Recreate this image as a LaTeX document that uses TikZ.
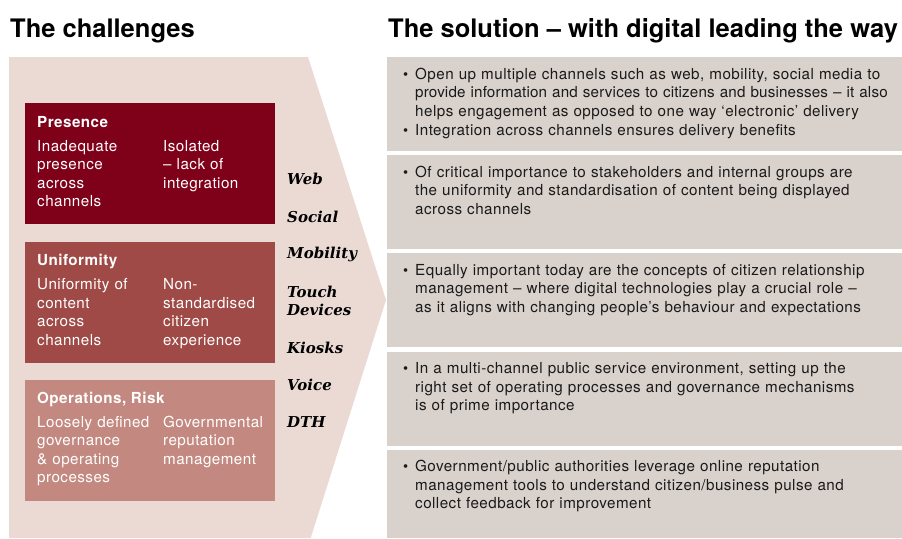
\documentclass[tikz,border=0pt]{standalone}
\usepackage{fontspec}
\setmainfont{TeX Gyre Heros}
\newfontfamily\bodyfont[LetterSpace=3]{TeX Gyre Heros}
\newfontfamily\chanfont{DejaVu Serif}
\definecolor{chevbg}{HTML}{EBDAD4}
\definecolor{presred}{HTML}{7F0019}
\definecolor{unired}{HTML}{9F4A46}
\definecolor{opsred}{HTML}{C38980}
\definecolor{solgray}{HTML}{D9D1CC}
\definecolor{ink}{HTML}{1A1A1A}
\tikzset{
  heading/.style={anchor=base west,inner sep=0,font=\bfseries\fontsize{25.5}{30}\selectfont},
  boxtitle/.style={anchor=base west,inner sep=0,text=white,font=\bodyfont\bfseries\fontsize{15.2}{18.5}\selectfont},
  boxtext/.style={anchor=base west,inner sep=0,text=white,text width=#1,align=left,font=\bodyfont\fontsize{15.2}{18.5}\selectfont},
  channel/.style={anchor=base west,inner sep=0,text=black,align=left,text width=80,font=\chanfont\bfseries\itshape\fontsize{15}{18}\selectfont},
  bul/.style={anchor=base west,inner sep=0,text=ink,font=\fontsize{14.5}{18.5}\selectfont},
  soltext/.style={anchor=base west,inner sep=0,text=ink,text width=520,align=left,font=\bodyfont\fontsize{15.2}{18.5}\selectfont}
}
\begin{document}
\begin{tikzpicture}[x=1pt,y=-1pt]
  \useasboundingbox (0,0) rectangle (902,538);
  \fill[white] (0,0) rectangle (902,538);

  % left side
  \node[heading] (challenges) at (10,37) {The challenges};
  \fill[chevbg] (9,57) -- (308,57) -- (386,300) -- (310.7,538) -- (9,538) -- cycle;

  \fill[presred] (25,103) rectangle (275,224);
  \node[boxtitle] (presence) at (37,127) {Presence};
  \node[boxtext=124] (presA) at (37,151) {Inadequate\\presence\\across\\channels};
  \node[boxtext=112] (presB) at (163,151) {Isolated\\– lack of\\integration};

  \fill[unired] (25,242) rectangle (275,363);
  \node[boxtitle] (uniformity) at (37,265.5) {Uniformity};
  \node[boxtext=124] (uniA) at (37,289.5) {Uniformity of\\content\\across\\channels};
  \node[boxtext=112] (uniB) at (163,289.5) {Non-\\standardised\\citizen\\experience};

  \fill[opsred] (25,380) rectangle (275,501);
  \node[boxtitle] (operations) at (37,403) {Operations, Risk};
  \node[boxtext=124] (opsA) at (37,427) {Loosely defined\\governance\\\&~operating\\processes};
  \node[boxtext=112] (opsB) at (163,427) {Governmental\\reputation\\management};

  % channels
  \node[channel] (web) at (287,184) {Web};
  \node[channel] (social) at (287,222) {Social};
  \node[channel] (mobility) at (287,258.5) {Mobility};
  \node[channel] (touch) at (287,297) {Touch\\Devices};
  \node[channel] (kiosks) at (287,353) {Kiosks};
  \node[channel] (voice) at (287,390) {Voice};
  \node[channel] (dth) at (287,427) {DTH};

  % right side
  \node[heading] (solution) at (388,37) {The solution – with digital leading the way};
  \foreach \t in {57,155.2,253.4,351.6}
    \fill[solgray] (387,\t) rectangle (902,\t+94);
  \fill[solgray] (387,449.8) rectangle (902,538);

  \node[bul] (b1) at (403,79.3) {\textbullet};
  \node[soltext] (s1) at (415,79.3) {Open up multiple channels such as web, mobility, social media to\\{\addfontfeature{LetterSpace=1}provide information and services to citizens and businesses – it also}\\helps engagement as opposed to one way ‘electronic’ delivery};
  \node[bul] (b2) at (403,135) {\textbullet};
  \node[soltext] (s2) at (415,135) {Integration across channels ensures delivery benefits};

  \node[bul] (b3) at (403,177.2) {\textbullet};
  \node[soltext] (s3) at (415,177.2) {Of critical importance to stakeholders and internal groups are\\the uniformity and standardisation of content being displayed\\across channels};

  \node[bul] (b4) at (403,275.4) {\textbullet};
  \node[soltext] (s4) at (415,275.4) {Equally important today are the concepts of citizen relationship\\management – where digital technologies play a crucial role –\\as it aligns with changing people’s behaviour and expectations};

  \node[bul] (b5) at (403,373.6) {\textbullet};
  \node[soltext] (s5) at (415,373.6) {In a multi-channel public service environment, setting up the\\right set of operating processes and governance mechanisms\\is of prime importance};

  \node[bul] (b6) at (403,471.8) {\textbullet};
  \node[soltext] (s6) at (415,471.8) {Government/public authorities leverage online reputation\\management tools to understand citizen/business pulse and\\collect feedback for improvement};
\end{tikzpicture}
\end{document}
